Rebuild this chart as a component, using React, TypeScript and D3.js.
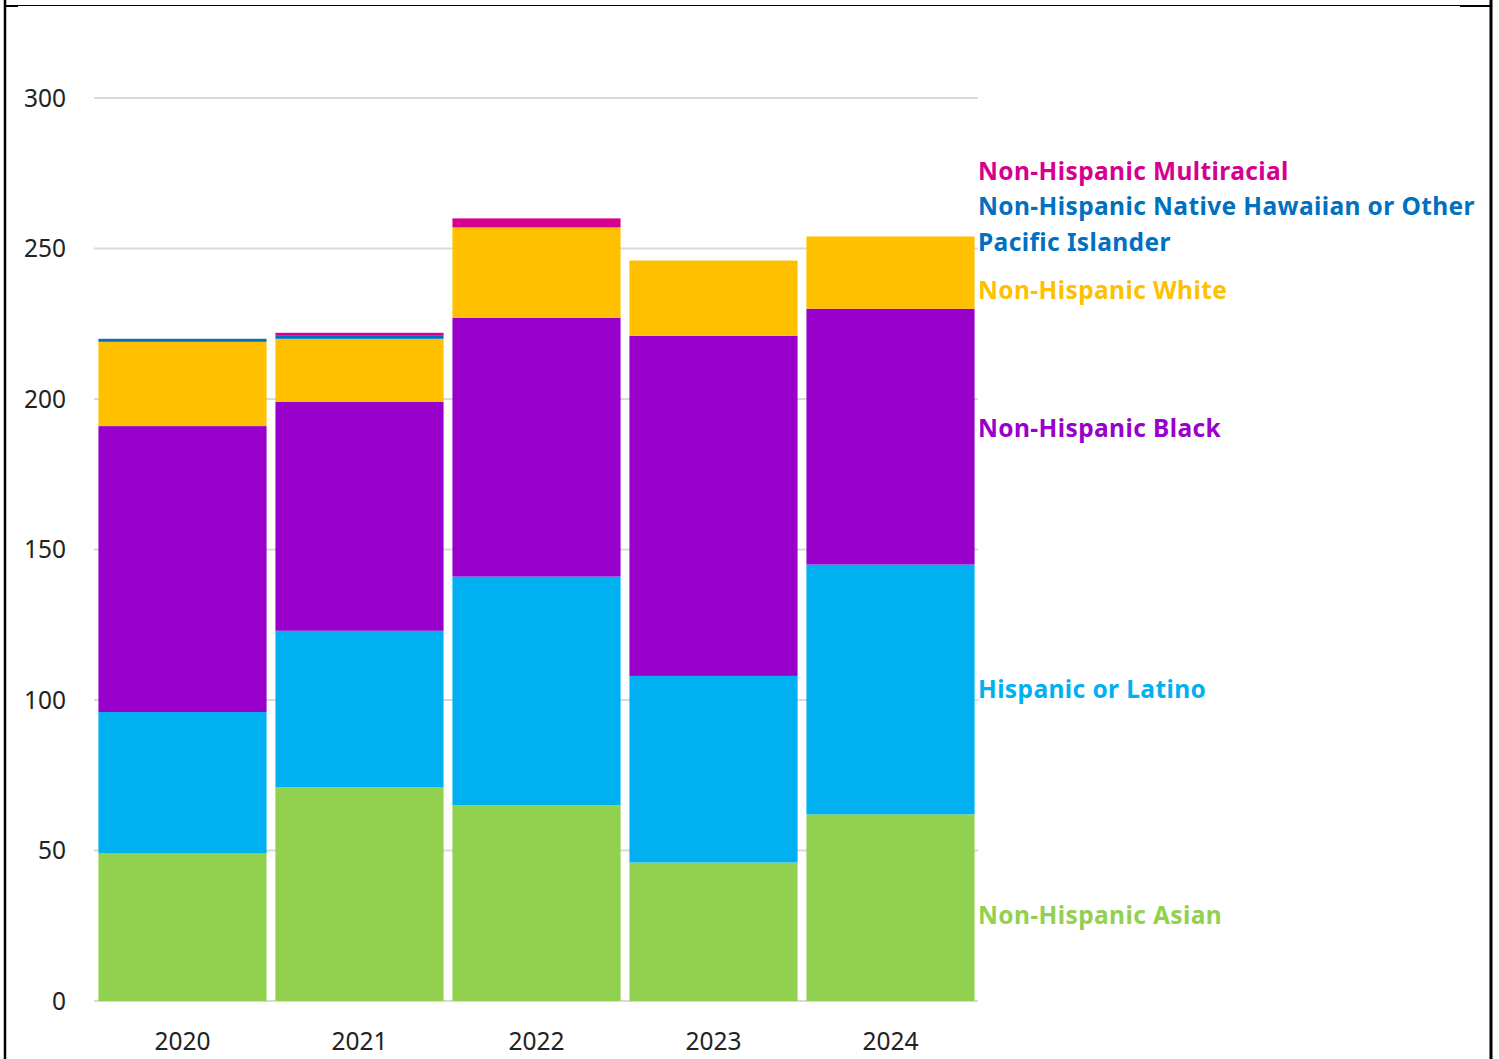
import * as React from "react";
import * as d3 from "d3";

const years = ["2020", "2021", "2022", "2023", "2024"];
const asian = [49, 71, 65, 46, 62];
const hispanic = [47, 52, 76, 62, 83];
const black = [95, 76, 86, 113, 85];
const white = [28, 21, 30, 25, 24];
const nhpi = [1, 1, 0, 0, 0];
const multiracial = [0, 1, 3, 0, 0];
const yTicks = [0, 50, 100, 150, 200, 250, 300];

const seriesKeys = ["asian", "hispanic", "black", "white", "nhpi", "multi"];
const seriesNames = [
  "Non-Hispanic Asian",
  "Hispanic or Latino",
  "Non-Hispanic Black",
  "Non-Hispanic White",
  "Non-Hispanic Native Hawaiian or Other|Pacific Islander",
  "Non-Hispanic Multiracial",
];
const seriesColors = ["#92D050", "#00B0F0", "#9900CC", "#FFC000", "#0070C0", "#D6008F"];

const W = 1499;
const H = 1059;
const font = "'Noto Sans', 'Open Sans', sans-serif";

export default function App() {
  const rows = years.map((yr, i) => ({
    year: yr,
    asian: asian[i],
    hispanic: hispanic[i],
    black: black[i],
    white: white[i],
    nhpi: nhpi[i],
    multi: multiracial[i],
  }));
  const stacked = d3.stack<any>().keys(seriesKeys)(rows);

  const x = d3
    .scaleBand()
    .domain(years)
    .range([94, 979])
    .paddingInner(0.05)
    .paddingOuter(0.025);
  const y = d3.scaleLinear().domain([0, 300]).range([1001, 98]);

  const last = years.length - 1;
  const labelX = 978;
  // label centres from the last bar's segments; the thin top series stack upward above White
  const mid = (k: number) => (y(stacked[k][last][0]) + y(stacked[k][last][1])) / 2;
  const whiteY = mid(3) + 18;
  const labelYs = [mid(0) + 8, mid(1), mid(2) - 8, whiteY, whiteY - 66, whiteY - 119];

  return (
    <svg
      width={W}
      height={H}
      style={{ position: "absolute", left: 0, top: 0, background: "#fff" }}
    >
      {/* frame */}
      <line x1={5} y1={0} x2={5} y2={H} stroke="#000" strokeWidth={2.5} />
      <line x1={1491} y1={0} x2={1491} y2={H} stroke="#000" strokeWidth={3} />
      <line x1={5} y1={5.5} x2={1491} y2={5.5} stroke="#000" strokeWidth={1} />
      <line x1={5} y1={6} x2={18} y2={6} stroke="#000" strokeWidth={2} />
      <line x1={1460} y1={6} x2={1491} y2={6} stroke="#000" strokeWidth={2} />

      {yTicks.map((t) => (
        <g key={t}>
          <line x1={94} x2={978} y1={y(t)} y2={y(t)} stroke="#D9D9D9" strokeWidth={2} />
          <text
            x={66}
            y={y(t)}
            dy="0.35em"
            textAnchor="end"
            fontFamily={font}
            fontSize={24.5}
            fill="#222"
          >
            {t}
          </text>
        </g>
      ))}

      {stacked.map((s, k) => (
        <g key={s.key} fill={seriesColors[k]}>
          {s.map((d, i) => {
            const h = y(d[0]) - y(d[1]);
            if (h <= 0) return null;
            return (
              <rect
                key={years[i]}
                x={x(years[i])}
                y={y(d[1])}
                width={x.bandwidth()}
                height={h}
              />
            );
          })}
        </g>
      ))}

      {years.map((yr) => (
        <text
          key={yr}
          x={(x(yr) as number) + x.bandwidth() / 2}
          y={1041}
          dy="0.35em"
          textAnchor="middle"
          fontFamily={font}
          fontSize={24.5}
          fill="#222"
        >
          {yr}
        </text>
      ))}

      {seriesNames.map((name, k) => {
        const lines = name.split("|");
        const y0 = labelYs[k] - ((lines.length - 1) * 36) / 2;
        return (
          <text
            key={name}
            fontFamily={font}
            fontSize={24.5}
            fontWeight={700}
            letterSpacing={0.4}
            fill={seriesColors[k]}
          >
            {lines.map((ln, j) => (
              <tspan key={j} x={labelX} y={y0 + j * 36} dy="0.35em">
                {ln}
              </tspan>
            ))}
          </text>
        );
      })}
    </svg>
  );
}
